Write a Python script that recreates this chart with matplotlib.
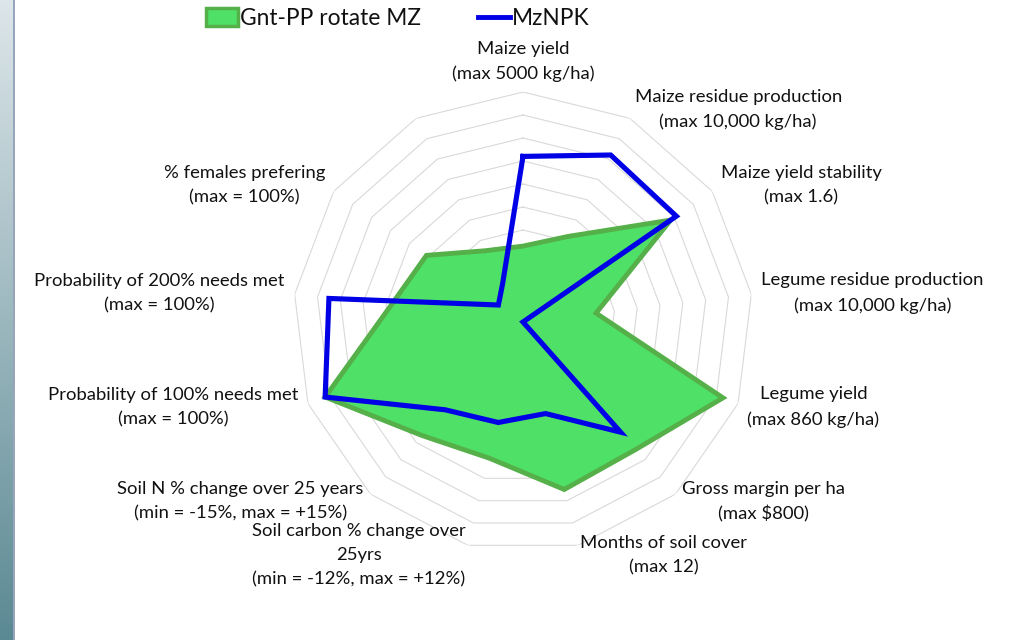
import numpy as np
import matplotlib.pyplot as plt
from matplotlib.patches import Patch
from matplotlib.lines import Line2D
from matplotlib.colors import LinearSegmentedColormap

plt.rcParams['font.family'] = ['Lato', 'DejaVu Sans']

# axis labels, clockwise from the top (the last spoke has no label)
categories = [
    'Maize yield\n(max 5000 kg/ha)',
    'Maize residue production\n(max 10,000 kg/ha)',
    'Maize yield stability\n(max 1.6)',
    'Legume residue production\n(max 10,000 kg/ha)',
    'Legume yield\n(max 860 kg/ha)',
    'Gross margin per ha\n(max $800)',
    'Months of soil cover\n(max 12)',
    'Soil carbon % change over\n25yrs\n(min = -12%, max = +12%)',
    'Soil N % change over 25 years\n(min = -15%, max = +15%)',
    'Probability of 100% needs met\n(max = 100%)',
    'Probability of 200% needs met\n(max = 100%)',
    '% females prefering\n(max = 100%)',
    '',
]

# scaled scores (fraction of the max of each axis)
gnt_pp = [0.33, 0.42, 0.78, 0.32, 0.93, 0.74, 0.75, 0.61, 0.66, 0.92, 0.58, 0.51, 0.35]
mznpk = [0.72, 0.82, 0.81, 0.0, 0.0, 0.64, 0.41, 0.45, 0.51, 0.92, 0.85, 0.13, 0.19]

series_names = ['Gnt-PP rotate MZ', 'MzNPK']
rings = np.arange(1, 11) / 10

green_fill = '#4fe068'
green_edge = '#55b04a'
blue = '#0000e6'

n = len(categories)
theta = np.arange(n) * 2 * np.pi / n
theta_c = np.append(theta, theta[0])

fig = plt.figure(figsize=(10.24, 6.4), dpi=100)

# decorative strip on the left edge
strip = fig.add_axes([0, 0, 13 / 1024, 1])
grad = np.linspace(0, 1, 256).reshape(-1, 1)
cm = LinearSegmentedColormap.from_list('strip', ['#dde6ea', '#5b8993'])
strip.imshow(grad, aspect='auto', cmap=cm, extent=[0, 1, 0, 1], origin='upper')
strip.axis('off')
edge = fig.add_axes([13 / 1024, 0, 2 / 1024, 1])
edge.set_facecolor('#97a5bb')
edge.set_xticks([])
edge.set_yticks([])
for s in edge.spines.values():
    s.set_visible(False)

ax = fig.add_axes([293 / 1024, 88 / 640, 460 / 1024, 460 / 640], projection='polar')
ax.set_theta_zero_location('N')
ax.set_theta_direction(-1)
ax.set_ylim(0, 1)
ax.grid(False)
ax.spines['polar'].set_visible(False)
ax.set_xticks([])
ax.set_yticks([])
ax.patch.set_alpha(0)

# polygon gridlines
for r in rings:
    ax.plot(theta_c, [r] * (n + 1), color='#d9d9d9', lw=0.8, zorder=1)

ax.fill(theta_c, gnt_pp + gnt_pp[:1], facecolor=green_fill, edgecolor=green_edge,
        lw=3.5, joinstyle='miter', zorder=2)
ax.plot(theta_c, mznpk + mznpk[:1], color=blue, lw=3.7, solid_joinstyle='miter', zorder=3)

for t, lab in zip(theta, categories):
    s, c = np.sin(t), np.cos(t)
    if s > 0.1:
        ha = 'left'
    elif s < -0.1:
        ha = 'right'
    else:
        ha = 'center'
    va = 'center'
    if abs(s) <= 0.1:
        va = 'bottom' if c > 0 else 'top'
    ax.annotate(lab, xy=(t, 1.0), xytext=(10 * s, 10 * c), textcoords='offset pixels',
                ha=ha, va=va, multialignment='center', fontsize=13.3,
                linespacing=1.64, color='#111111', annotation_clip=False)

handles = [Patch(facecolor=green_fill, edgecolor=green_edge, lw=2.5),
           Line2D([], [], color=blue, lw=3.5)]
fig.legend(handles, series_names, loc='upper left', bbox_to_anchor=(206 / 1024, 1 - 8 / 640),
           ncol=2, frameon=False, fontsize=16.4, borderpad=0, borderaxespad=0,
           handlelength=1.4, handleheight=0.8, handletextpad=0.1, columnspacing=2.5,
           labelcolor='#111111')

fig.savefig('out.png', dpi=100)
